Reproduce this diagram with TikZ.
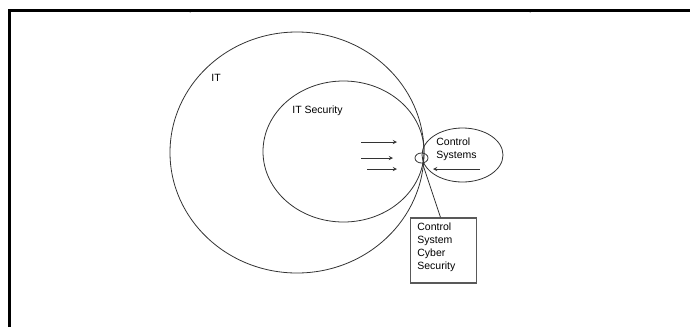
\documentclass[tikz,border=0pt]{standalone}
\usepackage{fontspec}
\setmainfont{Liberation Sans}
\usetikzlibrary{shapes.geometric,positioning}

\begin{document}
\begin{tikzpicture}[x=1pt, y=-1pt, line width=0.8pt, draw=black!80,
  area/.style={draw, ellipse, inner sep=0pt},
  label text/.style={font=\fontsize{10.5}{13}\selectfont, inner sep=0pt, anchor=west, align=left},
  flow/.style={->, >=stealth, line width=0.9pt}]
  \useasboundingbox (0,0) rectangle (690,327);
  % frame, cut off at the right and the bottom
  \draw[line width=3pt, black] (9,327) -- (9,10) -- (690,10);
  \fill (190,11) circle (1.5pt) (530,11) circle (1.5pt);

  % the nested areas
  \node (IT) [area, minimum width=254pt, minimum height=241pt] at (297,152.5) {};
  \node (ITSEC) [area, minimum width=161pt, minimum height=141pt] at (343.5,151.5) {};
  \node (CS) [area, minimum width=81pt, minimum height=54pt] at (462.5,155) {};
  \node (DOT) [area, minimum width=13pt, minimum height=10pt] at (421.5,158) {};

  \node [label text] at (211,78) {IT};
  \node [label text] at (292,111) {IT Security};
  \node (CSTEXT) [label text] at (436,149) {Control\\Systems};

  \node (BOX) [draw, line width=1.4pt, draw=black!65, minimum width=66pt, minimum height=65pt,
    inner sep=0pt] at (443.5,250.5) {};
  \node [label text, anchor=north west] at (417,222) {Control\\System\\Cyber\\Security};
  \coordinate (BOXTOP) at ([xshift=-3pt]BOX.north);
  \draw (DOT.-80) -- (BOXTOP);

  % arrows towards the small circle
  \coordinate (A1) at (361,142);  \coordinate (B1) at (397,142);
  \coordinate (A2) at (361,158);  \coordinate (B2) at (393,158);
  \coordinate (A3) at (367,169);  \coordinate (B3) at (397,169);
  \coordinate (A4) at (480,169);  \coordinate (B4) at (433,169);
  \foreach \i in {1,...,4}
    \draw [flow] (A\i) -- (B\i);
\end{tikzpicture}
\end{document}
